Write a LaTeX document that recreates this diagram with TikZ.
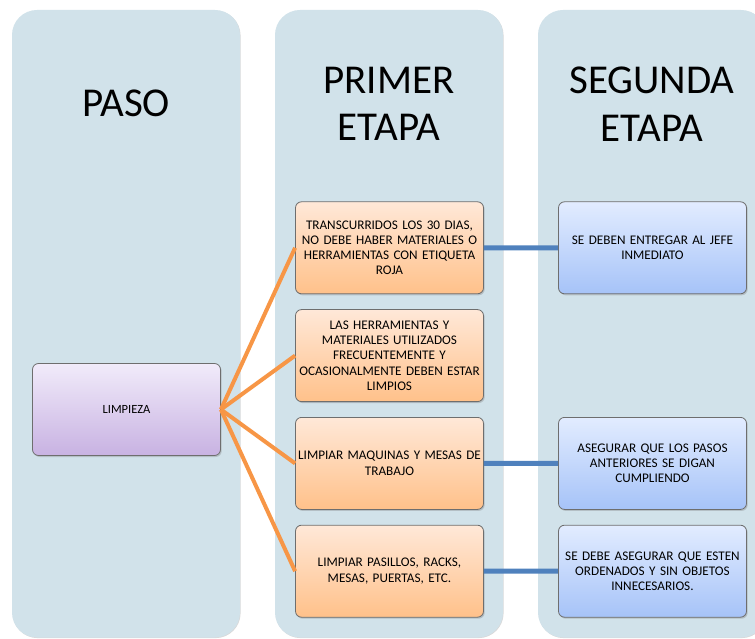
\documentclass[tikz,border=0pt]{standalone}
\usepackage{fontspec}
\setmainfont{Carlito}[WordSpace=0.7]
\usetikzlibrary{shadows}
\definecolor{columnfill}{HTML}{D1E2EA}
\definecolor{boxline}{HTML}{6E6E6E}
\definecolor{orangetop}{HTML}{FFE8D8}
\definecolor{orangebottom}{HTML}{FFC18A}
\definecolor{bluetop}{HTML}{E2ECFF}
\definecolor{bluebottom}{HTML}{A6C3F8}
\definecolor{purpletop}{HTML}{F1EBFA}
\definecolor{purplebottom}{HTML}{C8B2E2}
\definecolor{orangeline}{HTML}{F79646}
\definecolor{blueline}{HTML}{4F81BD}
\tikzset{
  column/.style={fill=columnfill, rounded corners=25pt,
    drop shadow={shadow xshift=0.6pt, shadow yshift=-0.6pt, opacity=0.3}},
  heading/.style={font=\fontsize{41}{47.5}\selectfont, align=center},
  box/.style={draw=boxline, line width=0.8pt, rounded corners=6pt,
    text width=187pt, inner sep=0.5pt, minimum height=92pt, align=center,
    font=\fontsize{13.2}{15.3}\selectfont,
    drop shadow={shadow xshift=1.2pt, shadow yshift=-1.5pt, opacity=0.35}},
  stepbox/.style={box, top color=orangetop, bottom color=orangebottom},
  secondbox/.style={box, top color=bluetop, bottom color=bluebottom},
  firstbox/.style={box, top color=purpletop, bottom color=purplebottom,
    font=\fontsize{12.5}{15}\selectfont}
}
\begin{document}
\begin{tikzpicture}[x=1pt, y=1pt, grow'=east, level distance=263pt,
  parent anchor=east, child anchor=west,
  level 1/.style={sibling distance=107.8pt,
    edge from parent/.style={draw=orangeline, line width=4pt}},
  level 2/.style={edge from parent/.style={draw=blueline, line width=5pt}}]
  \useasboundingbox (0,0) rectangle (755,638);
  \clip (0,0) rectangle (755,638);
  % columns
  \fill[column] (12,0.5) rectangle (240,628);
  \fill[column] (275,0.5) rectangle (503,628);
  \fill[column] (538,0.5) rectangle (766,628);
  \node[heading] (paso) at (126,534.5) {PASO};
  \node[heading] (primer) at (389,534) {PRIMER\\ETAPA};
  \node[heading] (segunda) at (652,534) {SEGUNDA\\ETAPA};
  % tree
  \node[firstbox] (limpieza) at (126.5,228.5) {LIMPIEZA}
    child {node[stepbox] (paso1) {TRANSCURRIDOS LOS 30 DIAS,\\NO DEBE HABER MATERIALES O\\HERRAMIENTAS CON ETIQUETA\\ROJA}
      child {node[secondbox] (etapa1) {SE DEBEN ENTREGAR AL JEFE\\INMEDIATO}}
    }
    child {node[stepbox] (paso2) {LAS HERRAMIENTAS Y\\MATERIALES UTILIZADOS\\FRECUENTEMENTE Y\\OCASIONALMENTE DEBEN ESTAR\\LIMPIOS}}
    child {node[stepbox] (paso3) {LIMPIAR MAQUINAS Y MESAS DE\\TRABAJO}
      child {node[secondbox] (etapa3) {ASEGURAR QUE LOS PASOS\\ANTERIORES SE DIGAN\\CUMPLIENDO}}
    }
    child {node[stepbox] (paso4) {LIMPIAR PASILLOS, RACKS,\\MESAS, PUERTAS, ETC.}
      child {node[secondbox] (etapa4) {SE DEBE ASEGURAR QUE ESTEN\\ORDENADOS Y SIN OBJETOS\\INNECESARIOS.}}
    };
\end{tikzpicture}
\end{document}
